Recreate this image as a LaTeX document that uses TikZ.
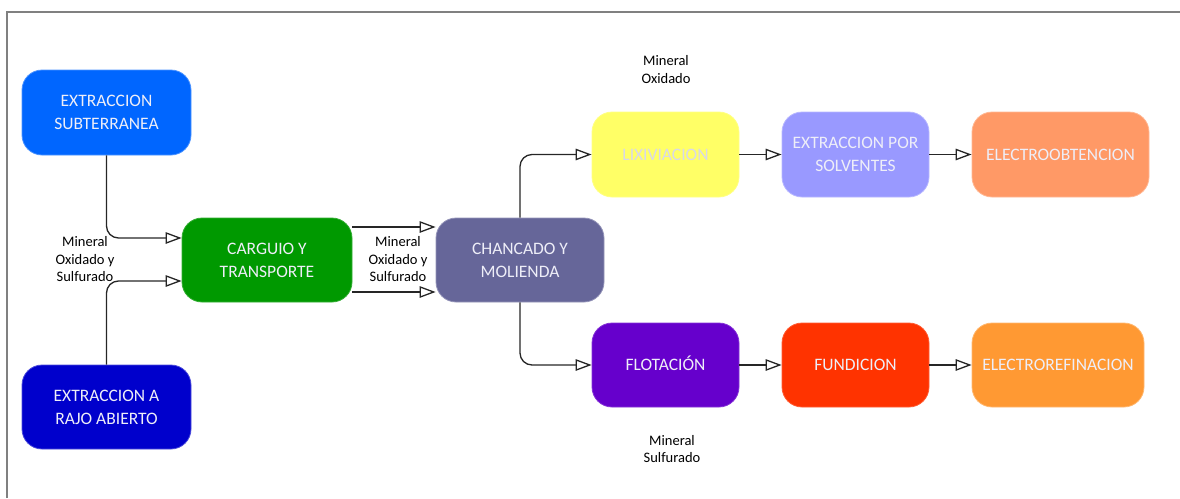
\documentclass[tikz,border=0pt]{standalone}
\usepackage{fontspec}
\setmainfont{Carlito}
\usetikzlibrary{arrows.meta}
\definecolor{cSub}{RGB}{0,102,255}
\definecolor{cRajo}{RGB}{0,0,204}
\definecolor{cCarg}{RGB}{0,153,0}
\definecolor{cChan}{RGB}{102,102,153}
\definecolor{cLix}{RGB}{255,255,102}
\definecolor{cSol}{RGB}{153,153,255}
\definecolor{cEo}{RGB}{255,153,102}
\definecolor{cFlot}{RGB}{102,0,204}
\definecolor{cFund}{RGB}{255,51,0}
\definecolor{cEr}{RGB}{255,153,51}
\definecolor{boxtext}{RGB}{238,238,248}
\definecolor{lixtext}{RGB}{216,216,232}
\definecolor{framegray}{RGB}{128,128,128}
\tikzset{
  procbox/.style={rounded corners=20pt, align=center, inner sep=2pt,
    text=boxtext, font=\fontsize{17.5}{23}\selectfont, line width=0.8pt},
  flowlabel/.style={align=center, inner sep=0pt, text=black,
    font=\fontsize{14.5}{17.5}\selectfont},
  conn/.style={line width=1.3pt, draw=black!85,
    -{Triangle[open, length=16pt, width=11.5pt, line width=1.3pt]}},
}
\begin{document}
\begin{tikzpicture}[x=1pt, y=-1pt]
\useasboundingbox (0,0) rectangle (1180,498);
% page frame
\draw[framegray, line width=2pt] (7,498) -- (7,12) -- (1180,12);

% process boxes
\node[procbox, fill=cSub, draw=cSub!70!white, minimum width=169pt, minimum height=85pt] (sub) at (106.5,112.5) {EXTRACCION\\SUBTERRANEA};
\node[procbox, fill=cRajo, draw=cRajo!70!white, minimum width=169pt, minimum height=84pt] (rajo) at (106.5,407) {EXTRACCION A\\RAJO ABIERTO};
\node[procbox, fill=cCarg, draw=cCarg!80!white, minimum width=170pt, minimum height=84pt] (carg) at (267,260) {CARGUIO Y\\TRANSPORTE};
\node[procbox, fill=cChan, draw=cChan!70!white, minimum width=168pt, minimum height=84pt] (chan) at (520,260) {CHANCADO Y\\MOLIENDA};
\node[procbox, fill=cLix, draw=cLix!80!white, text=lixtext, minimum width=147pt, minimum height=85pt] (lix) at (665.5,154.5) {LIXIVIACION};
\node[procbox, fill=cSol, draw=cSol!70!white, minimum width=147pt, minimum height=85pt] (sol) at (855.5,154.5) {EXTRACCION POR\\SOLVENTES};
\node[procbox, fill=cEo, draw=cEo!70!white, minimum width=177pt, minimum height=85pt] (eo) at (1060.5,154.5) {ELECTROOBTENCION};
\node[procbox, fill=cFlot, draw=cFlot!80!white, minimum width=147pt, minimum height=84pt] (flot) at (665.5,365) {\smash{FLOTACIÓN}\vphantom{FLOTACION}};
\node[procbox, fill=cFund, draw=cFund!80!white, minimum width=147pt, minimum height=84pt] (fund) at (855.5,365) {FUNDICION};
\node[procbox, fill=cEr, draw=cEr!70!white, minimum width=172pt, minimum height=84pt] (er) at (1058,365) {ELECTROREFINACION};

% flow labels
\node[flowlabel] (lbOx) at (666,69.5) {Mineral\\Oxidado};
\node[flowlabel] (lbLeft) at (85,259.5) {Mineral\\Oxidado y\\Sulfurado};
\node[flowlabel] (lbMid) at (398,259.5) {Mineral\\Oxidado y\\Sulfurado};
\node[flowlabel] (lbSulf) at (672,449) {Mineral\\Sulfurado};

% connectors
\draw[conn, rounded corners=12pt] (sub.south) |- ([yshift=22pt]carg.west);
\draw[conn, rounded corners=12pt] (rajo.north) |- ([yshift=-21pt]carg.west);
\draw[conn] ([yshift=33pt]carg.east) -- ([yshift=33pt]chan.west);
\draw[conn] ([yshift=-32pt]carg.east) -- ([yshift=-32pt]chan.west);
\draw[conn, rounded corners=12pt] (chan.north) |- (lix.west);
\draw[conn, rounded corners=12pt] (chan.south) |- (flot.west);
\draw[conn] (lix.east) -- (sol.west);
\draw[conn] (sol.east) -- (eo.west);
\draw[conn] (flot.east) -- (fund.west);
\draw[conn] (fund.east) -- (er.west);
\end{tikzpicture}
\end{document}
